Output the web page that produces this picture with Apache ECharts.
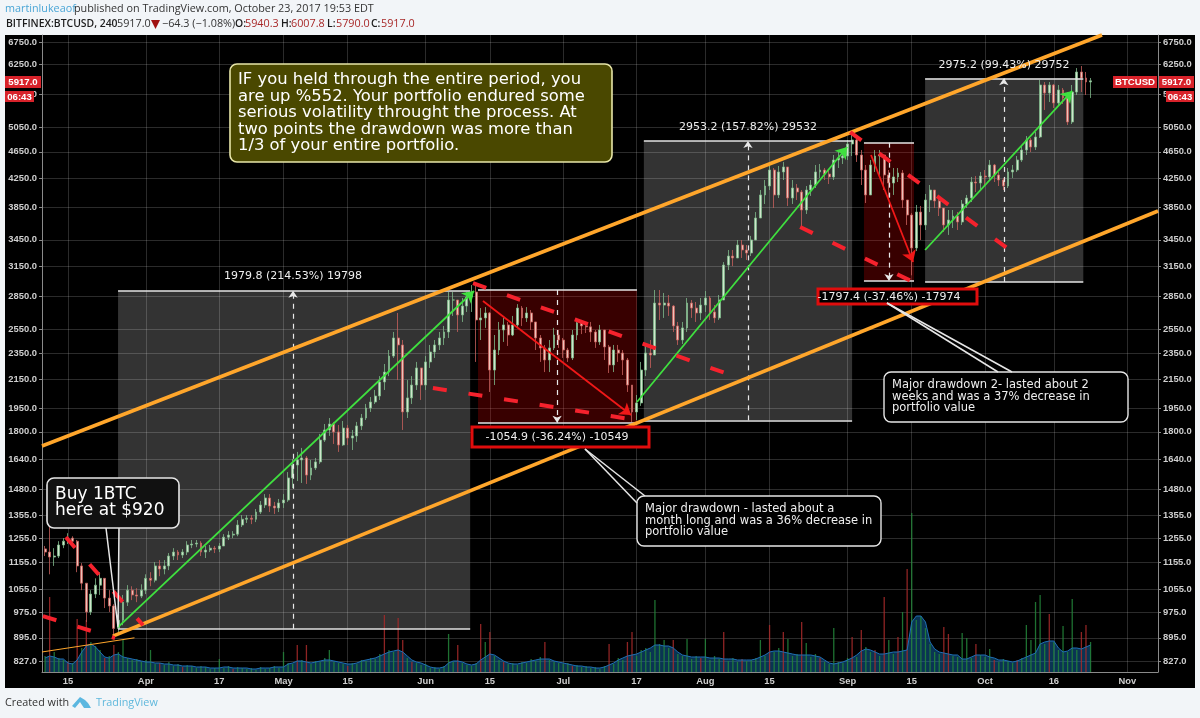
<!DOCTYPE html>
<html>
<head>
<meta charset="utf-8">
<title>BTCUSD</title>
<style>
html, body { margin: 0; padding: 0; background: #f2f5f8; }
#container { width: 1200px; height: 718px; }
</style>
<script src="https://cdn.jsdelivr.net/npm/echarts@6/dist/echarts.min.js"></script>
</head>
<body>
<div id="container"></div>
<script>
/* one row per day, first day is 2017-03-10 */
const firstDay = Date.UTC(2017, 2, 10);
const opens = [1210,1197,1177,1181,1226,1242,1255,1242,1142,1077,977,1038,1070,1095,1024,997,924,950,1010,1052,1035,1031,1052,1095,1088,1142,1130,1142,1181,1197,1185,1197,1226,1230,1234,1197,1205,1213,1209,1222,1259,1268,1272,1312,1338,1343,1338,1371,1404,1438,1399,1390,1414,1428,1539,1608,1636,1647,1554,1592,1625,1750,1811,1848,1799,1721,1823,1762,1775,1836,1886,1951,1991,2032,2131,2204,2327,2474,2416,1925,2019,2109,2235,2109,2281,2359,2416,2474,2525,2814,2814,2675,2757,2843,2891,2630,2648,2693,2219,2375,2542,2586,2499,2586,2738,2648,2693,2612,2474,2392,2296,2392,2499,2457,2375,2312,2499,2604,2577,2569,2525,2441,2542,2400,2258,2375,2351,2296,2109,1925,1985,2219,2351,2335,2785,2766,2785,2757,2577,2457,2560,2785,2738,2693,2766,2833,2702,2648,2814,3168,3266,3245,3391,3334,3300,3449,3716,4018,4142,4373,4018,4344,4418,3977,4114,4059,3818,4086,4156,4344,4373,4314,4271,4524,4555,4586,4776,4841,4601,4373,4018,4448,4586,4601,4300,4184,4271,4329,3950,3754,3357,3792,3629,3950,4086,3937,3844,3629,3691,3741,3666,3897,3977,4198,4184,4285,4271,4448,4300,4227,4142,4344,4373,4524,4680,4841,4727,4891,5834,5678,5834,5489,5736,5583,5146,5697,6097,5974,5894];
const closes = [1197,1177,1181,1226,1242,1255,1242,1142,1077,977,1038,1070,1095,1024,997,924,950,1010,1052,1035,1031,1052,1095,1088,1142,1130,1142,1181,1197,1185,1197,1226,1230,1234,1197,1205,1213,1209,1222,1259,1268,1272,1312,1338,1343,1338,1371,1404,1438,1399,1390,1414,1428,1539,1608,1636,1647,1554,1592,1625,1750,1811,1848,1799,1721,1823,1762,1775,1836,1886,1951,1991,2032,2131,2204,2327,2474,2416,1925,2019,2109,2235,2109,2281,2359,2416,2474,2525,2814,2814,2675,2757,2843,2891,2630,2648,2693,2219,2375,2542,2586,2499,2586,2738,2648,2693,2612,2474,2392,2296,2392,2499,2457,2375,2312,2499,2604,2577,2569,2525,2441,2542,2400,2258,2375,2351,2296,2109,1925,1985,2219,2351,2335,2785,2766,2785,2757,2577,2457,2560,2785,2738,2693,2766,2833,2702,2648,2814,3168,3266,3245,3391,3334,3300,3449,3716,4018,4142,4373,4018,4344,4418,3977,4114,4059,3818,4086,4156,4344,4373,4314,4271,4524,4555,4586,4776,4841,4601,4373,4018,4448,4586,4601,4300,4184,4271,4329,3950,3754,3357,3792,3629,3950,4086,3937,3844,3629,3691,3741,3666,3897,3977,4198,4184,4285,4271,4448,4300,4227,4142,4344,4373,4524,4680,4841,4727,4891,5834,5678,5834,5489,5736,5583,5146,5697,6097,5974,5894,5917];
const highs = [1222,1343,1213,1242,1255,1276,1263,1247,1153,1077,1052,1095,1118,1095,1052,1003,983,1035,1070,1066,1059,1073,1110,1118,1157,1165,1165,1193,1213,1205,1209,1242,1247,1247,1242,1222,1226,1222,1234,1272,1285,1285,1334,1357,1357,1357,1385,1423,1457,1457,1419,1433,1457,1570,1641,1681,1704,1658,1636,1647,1787,1848,1886,1861,1842,1867,1842,1811,1861,1912,1978,2025,2074,2174,2265,2375,2525,2693,2457,2145,2174,2281,2197,2327,2416,2457,2525,2577,2891,2891,2814,2833,2891,2960,2980,2738,2747,2702,2499,2612,2648,2612,2666,2775,2757,2747,2720,2612,2499,2416,2457,2560,2542,2474,2392,2542,2648,2630,2612,2612,2542,2586,2542,2416,2416,2416,2375,2312,2109,2039,2281,2416,2457,2911,2911,2882,2862,2766,2612,2612,2833,2814,2795,2833,2901,2852,2766,2862,3200,3334,3334,3449,3449,3391,3497,3792,4086,4227,4448,4403,4433,4494,4373,4227,4170,4086,4142,4227,4448,4463,4403,4373,4601,4648,4680,4841,4974,4924,4680,4448,4524,4680,4680,4524,4373,4403,4403,4373,3950,3779,3884,3871,4032,4156,4086,3977,3844,3818,3818,3792,3950,4018,4271,4285,4344,4373,4524,4463,4344,4256,4403,4448,4586,4744,4907,4874,4974,5934,5894,5894,5854,5834,5775,5697,5834,6179,6222,6097,5974];
const lows = [1181,1110,1142,1173,1213,1230,1217,1118,1052,944,967,1024,1035,990,977,895,911,934,997,1017,1010,1024,1038,1066,1080,1103,1110,1126,1165,1165,1173,1185,1213,1217,1181,1173,1197,1193,1197,1222,1247,1255,1263,1303,1321,1316,1325,1362,1390,1371,1362,1371,1390,1419,1487,1523,1513,1508,1528,1581,1614,1739,1775,1727,1681,1716,1721,1692,1739,1811,1873,1925,1978,2005,2074,2174,2312,2145,1811,1886,1978,2074,2005,2074,2235,2312,2375,2416,2474,2666,2525,2612,2702,2702,2281,2457,2560,2060,2109,2335,2441,2408,2490,2560,2577,2612,2542,2375,2281,2204,2204,2375,2392,2312,2281,2296,2457,2507,2516,2441,2392,2416,2296,2197,2204,2281,2182,2060,1860,1873,1965,2174,2235,2375,2630,2648,2666,2525,2416,2424,2525,2648,2612,2630,2702,2630,2604,2630,2814,3115,3157,3245,3245,3223,3266,3497,3716,3897,4086,3844,3977,4227,3871,3897,3950,3604,3767,4005,4114,4256,4227,4170,4227,4403,4463,4524,4586,4494,4156,3910,4086,4344,4300,4086,3950,4018,4198,3844,3629,3060,3322,3449,3568,3792,3844,3741,3544,3509,3592,3568,3629,3844,3923,4059,4086,4142,4227,4198,4142,4086,4114,4256,4344,4494,4601,4648,4680,4874,5360,5508,5396,5433,5470,5094,5111,5640,5697,5640,5583];
/* volume, the axis for it is hidden so the unit is only relative */
const volumes = [16,75,20,14,12,10,9,53,24,52,30,26,22,14,16,27,20,32,14,12,13,10,12,22,8,9,7,10,6,8,5,7,6,4,6,5,3,4,13,4,6,3,5,4,3,4,2,5,3,4,6,4,20,9,8,27,12,27,8,11,10,14,22,10,9,8,6,9,8,12,11,14,13,18,57,22,20,54,32,14,10,9,7,8,4,5,3,6,38,10,27,9,7,6,9,48,30,40,16,12,10,8,9,7,10,9,13,11,15,30,12,10,9,8,9,6,7,5,6,4,5,3,6,28,8,14,12,30,40,16,22,24,20,72,28,32,24,32,18,16,33,13,16,14,33,12,16,13,40,11,14,10,13,11,12,14,32,16,47,20,24,40,33,16,18,50,29,15,18,14,10,8,44,10,9,14,35,15,42,25,20,22,16,75,32,18,35,60,103,159,52,56,44,28,20,18,45,38,16,15,39,34,14,28,17,15,23,12,10,13,11,9,12,14,47,32,70,77,28,58,30,22,46,20,73,22,40,47,30];
const redVolumeDays = [1,5,7,9,13,15,25,30,41,55,57,66,74,77,78,80,90,95,97,100,109,115,123,127,128,137,143,148,152,158,161,165,169,176,178,181,183,186,188,196,197,203,207,212,219,226,227];
const volumeAverage = [14,16,15,13,13,9,8,12,20,26,28,25,20,15,14,17,18,15,14,13,12,11,10,10,9,9,8,8,7,7,6,6,6,5,5,5,4,4,4,5,5,4,4,4,4,3,3,4,4,4,5,5,5,8,9,11,11,10,9,10,11,12,12,11,10,9,8,8,9,11,12,13,14,16,18,20,21,22,20,16,12,10,9,7,5,4,4,5,9,11,11,10,8,7,8,12,15,18,17,14,11,9,8,8,9,10,11,12,13,13,13,11,10,9,8,7,6,6,5,5,4,4,5,7,9,12,14,16,17,18,20,22,24,27,27,26,26,24,20,17,16,15,15,15,15,14,14,14,13,13,13,12,12,12,12,13,15,17,20,21,21,20,19,18,17,17,17,17,16,15,12,9,8,9,10,12,14,17,21,23,22,20,18,18,19,20,20,21,22,50,56,56,50,30,23,20,19,18,17,17,13,13,15,17,17,17,15,14,12,12,11,10,11,13,15,17,19,28,30,31,31,24,20,21,24,24,23,25,27];

/* axis ticks */
const priceTicks = [827,895,975,1055,1155,1255,1355,1480,1640,1800,1950,2150,2350,2550,2850,3150,3450,3850,4250,4650,5050,5650,6250,6750];
const dateTicks = ['2017-03-15','2017-04-01','2017-04-17','2017-05-01','2017-05-15','2017-06-01','2017-06-15','2017-07-01','2017-07-17','2017-08-01','2017-08-15','2017-09-01','2017-09-15','2017-10-01','2017-10-16','2017-11-01'];
const dateTickLabels = ['15','Apr','17','May','15','Jun','15','Jul','17','Aug','15','Sep','15','Oct','16','Nov'];

/* drawn tools: [start, end, low, high] */
const gainBoxes = [
    ['2017-03-25T22:00Z', '2017-06-10T17:00Z', 922.8, 2902.6],
    ['2017-07-18T14:00Z', '2017-09-02T00:00Z', 1871, 4824],
    ['2017-09-17T22:00Z', '2017-10-22T10:00Z', 2992, 5967]
];
const lossBoxes = [
    ['2017-06-12T10:00Z', '2017-07-17T02:00Z', 1856, 2911],
    ['2017-09-04T14:00Z', '2017-09-15T12:00Z', 3001, 4798]
];
const gainMiddles = ['2017-05-03T02:00Z', '2017-08-10T07:00Z', '2017-10-05T02:00Z'];
const lossMiddles = ['2017-06-29T16:00Z', '2017-09-10T01:00Z'];
/* lines: [date, price, date, price] */
const channelLines = [
    ['2017-03-09T08:00Z', 1715, '2017-10-26T12:00Z', 6912],
    ['2017-03-24T19:00Z', 900, '2017-11-07T17:00Z', 3805]
];
const thinChannel = ['2017-03-09T08:00Z', 853, '2017-03-29T12:00Z', 895];
const greenArrows = [
    ['2017-03-25T22:00Z', 928, '2017-06-11T13:00Z', 2901],
    ['2017-07-17T02:00Z', 1991, '2017-08-31T22:00Z', 4727],
    ['2017-09-17T22:00Z', 3334, '2017-10-20T00:00Z', 5717]
];
const redArrows = [
    ['2017-06-13T12:00Z', 2805, '2017-07-15T19:00Z', 1905],
    ['2017-09-06T03:00Z', 4601, '2017-09-15T07:00Z', 3201]
];
const redDashes = [
    ['2017-03-14T13:00Z', 1259, '2017-03-31T09:00Z', 934],
    ['2017-03-09T13:00Z', 963, '2017-03-25T06:00Z', 894],
    ['2017-06-11T08:00Z', 2980, '2017-08-05T07:00Z', 2197],
    ['2017-06-02T14:00Z', 2088, '2017-07-15T14:00Z', 1879],
    ['2017-09-01T14:00Z', 4974, '2017-10-05T19:00Z', 3357],
    ['2017-08-21T16:00Z', 3604, '2017-09-15T07:00Z', 2992]
];

const dayTime = i => firstDay + i * 86400000;
const ts = s => Date.parse(s);
const redSet = new Set(redVolumeDays);
const dateTickTimes = dateTicks.map(d => ts(d + 'T00:00Z'));

const candleData = opens.map((o, i) => [
    dayTime(i), o, closes[i],
    Math.min(lows[i], o, closes[i]), Math.max(highs[i], o, closes[i])
]);
const volumeData = volumes.map((v, i) => ({
    value: [dayTime(i), v],
    itemStyle: { color: redSet.has(i) ? '#a82a2a' : '#23853a' }
}));
const averageData = volumeAverage.map((v, i) => [dayTime(i), v]);

function seg(row, style, arrow) {
    return [
        { coord: [ts(row[0]), row[1]], symbol: 'none', lineStyle: style },
        { coord: [ts(row[2]), row[3]], symbol: arrow ? 'arrow' : 'none', symbolSize: arrow || 0 }
    ];
}
function boxArea(box, color) {
    return [
        { coord: [ts(box[0]), box[3]], itemStyle: { color: color } },
        { coord: [ts(box[1]), box[2]] }
    ];
}

const edgeStyle = { color: '#e4e4e4', width: 1.6, type: 'solid' };
const middleStyle = { color: '#e8e8e8', width: 1.2, type: [5, 5] };
const toolLines = [];
gainBoxes.concat(lossBoxes).forEach(b => {
    toolLines.push(seg([b[0], b[2], b[1], b[2]], edgeStyle));
    toolLines.push(seg([b[0], b[3], b[1], b[3]], edgeStyle));
});
gainMiddles.forEach((d, i) => toolLines.push(seg([d, gainBoxes[i][2], d, gainBoxes[i][3]], middleStyle, 7)));
lossMiddles.forEach((d, i) => toolLines.push(seg([d, lossBoxes[i][3], d, lossBoxes[i][2]], middleStyle, 7)));
channelLines.forEach(r => toolLines.push(seg(r, { color: '#ffa62b', width: 3.6, type: 'solid' })));
toolLines.push(seg(thinChannel, { color: '#ffa62b', width: 1, type: 'solid' }));
greenArrows.forEach(r => toolLines.push(seg(r, { color: '#3fe03f', width: 1.8, type: 'solid' }, 11)));
redArrows.forEach(r => toolLines.push(seg(r, { color: '#f01818', width: 1.8, type: 'solid' }, 11)));
redDashes.forEach(r => toolLines.push(seg(r, { color: '#f5222d', width: 4, type: [14, 22] })));

const tickLabelStyle = { color: '#cfcfcf', fontFamily: 'Liberation Sans', fontSize: 9.4, fontWeight: 'bold' };
const gridLine = { show: true, lineStyle: { color: 'rgba(255,255,255,0.17)', width: 1 } };
const priceAxis = (position, extra) => Object.assign({
    type: 'log', position: position, min: 797, max: 6912, logBase: 10,
    axisLine: { show: true, lineStyle: { color: '#8a8a8a', width: 1 } },
    axisTick: { show: true, length: 3, customValues: priceTicks, lineStyle: { color: '#8a8a8a' } },
    axisLabel: Object.assign({ customValues: priceTicks, margin: 5, formatter: v => Number(v).toFixed(1) }, tickLabelStyle),
    minorTick: { show: false }
}, extra);

/* texts and boxes in page positions */
const font = (size, family, weight) => (weight ? weight + ' ' : '') + size + 'px "' + family + '"';
function text(x, y, str, f, fill, align, lh) {
    return { type: 'text', z: 60, silent: true, style: { x: x, y: y, text: str, font: f, fill: fill, align: align || 'left', verticalAlign: 'middle', lineHeight: lh } };
}
function round(x, y, w, h, fill, stroke, lw, r) {
    return { type: 'rect', z: 55, silent: true, shape: { x: x, y: y, width: w, height: h, r: r || 0 }, style: { fill: fill, stroke: stroke, lineWidth: lw || 0 } };
}
function wedge(points) {
    return { type: 'polyline', z: 56, silent: true, shape: { points: points }, style: { fill: 'none', stroke: '#e6e6e6', lineWidth: 1.5 } };
}
function tag(x, y, w, h, str) {
    return [round(x, y, w, h, '#d8222a'), text(x + w / 2, y + h / 2 + 0.5, str, font(9.6, 'Liberation Sans', 'bold'), '#fff', 'center')];
}
const hdr = 'Open Sans';
const graphicItems = [
    { type: 'rect', z: -10, silent: true, shape: { x: 5, y: 35, width: 1190, height: 653 }, style: { fill: '#000' } },
    text(5, 9, 'martinlukeaof', font(10.8, hdr), '#4ba6d6'),
    text(74, 9, 'published on TradingView.com, October 23, 2017 19:53 EDT', font(10.8, hdr), '#333'),
    text(6, 24, 'BITFINEX:BTCUSD, 240', font(10.4, hdr, '600'), '#1c1c1c'),
    text(117, 24, '5917.0', font(10.8, hdr), '#333'),
    { type: 'polygon', z: 60, silent: true, shape: { points: [[151, 20], [160, 20], [155.5, 29]] }, style: { fill: '#a01010' } },
    text(162, 24, '\u221264.3 (\u22121.08%)', font(10.8, hdr), '#333'),
    text(235, 24, 'O:', font(10.4, hdr, '600'), '#1c1c1c'),
    text(245, 24, '5940.3', font(10.8, hdr), '#a82828'),
    text(281, 24, 'H:', font(10.4, hdr, '600'), '#1c1c1c'),
    text(291, 24, '6007.8', font(10.8, hdr), '#a82828'),
    text(327, 24, 'L:', font(10.4, hdr, '600'), '#1c1c1c'),
    text(336, 24, '5790.0', font(10.8, hdr), '#a82828'),
    text(371, 24, 'C:', font(10.4, hdr, '600'), '#1c1c1c'),
    text(381, 24, '5917.0', font(10.8, hdr), '#a82828'),
    /* footer */
    text(5, 703, 'Created with', font(10.8, hdr), '#333'),
    { type: 'polygon', z: 60, silent: true, shape: { points: [[72, 706], [80, 697], [85, 700], [88, 703], [91, 708], [84, 708], [80, 702], [75, 708]] }, style: { fill: '#5bb7e0' } },
    text(96, 703, 'TradingView', font(10.8, hdr), '#5fb8dc'),
    /* summary box */
    round(230, 64, 382, 98, '#4a4800', '#e8e6a8', 1.6, 7),
    text(238, 113, 'IF you held through the entire period, you\nare up %552. Your portfolio endured some\nserious volatility throught the process. At\ntwo points the drawdown was more than\n1/3 of your entire portfolio.', font(16.4, 'DejaVu Sans'), '#fff', 'left', 16.4),
    /* buy note */
    round(47, 478, 132, 50, '#111', '#e6e6e6', 1.6, 7),
    wedge([[106, 528], [118, 627], [119, 528]]),
    text(55, 503, 'Buy 1BTC\nhere at $920', font(17, 'DejaVu Sans'), '#fff', 'left', 16),
    /* measure labels */
    text(293, 276, '1979.8 (214.53%) 19798', font(11, 'DejaVu Sans'), '#eee', 'center'),
    text(748, 127, '2953.2 (157.82%) 29532', font(11, 'DejaVu Sans'), '#eee', 'center'),
    text(1004, 65, '2975.2 (99.43%) 29752', font(11, 'DejaVu Sans'), '#eee', 'center'),
    round(472, 427, 177, 20, '#000', '#e00d0d', 3),
    text(557, 437, '-1054.9 (-36.24%) -10549', font(11, 'DejaVu Sans'), '#eee', 'center'),
    round(818, 289, 159, 15, '#000', '#e00d0d', 3),
    text(889, 297, '-1797.4 (-37.46%) -17974', font(11, 'DejaVu Sans'), '#eee', 'center'),
    /* drawdown notes */
    wedge([[585, 449], [637, 503]]),
    wedge([[585, 449], [645, 496]]),
    round(637, 496, 244, 50, '#000', '#e6e6e6', 1.4, 7),
    text(645, 521, 'Major drawdown - lasted about a\nmonth long and was a 36% decrease in\nportfolio value', font(11.5, 'DejaVu Sans'), '#eee', 'left', 11.5),
    wedge([[887, 303], [998, 372]]),
    wedge([[887, 303], [1012, 372]]),
    round(884, 372, 244, 50, '#000', '#e6e6e6', 1.4, 7),
    text(892, 397, 'Major drawdown 2- lasted about 2\nweeks and was a 37% decrease in\nportfolio value', font(11.5, 'DejaVu Sans'), '#eee', 'left', 11.5)
].concat(
    tag(5, 76, 36, 12, '5917.0'), tag(5, 91, 29, 11, '06:43'),
    tag(1113, 76, 44, 12, 'BTCUSD'), tag(1159, 76, 35, 12, '5917.0'), tag(1166, 91, 28, 11, '06:43')
);

const option = {
    animation: false,
    backgroundColor: 'transparent',
    grid: { left: 42, right: 42, top: 35, bottom: 46, containLabel: false },
    xAxis: {
        /* dates as plain timestamps, the time axis does not take custom ticks */
        type: 'value', min: ts('2017-03-09T08:00Z'), max: ts('2017-11-07T17:00Z'),
        axisLine: { show: true, onZero: false, lineStyle: { color: '#8a8a8a' } },
        axisTick: { show: false, customValues: dateTickTimes },
        axisLabel: Object.assign({
            customValues: dateTickTimes, margin: 5,
            formatter: v => dateTickLabels[dateTickTimes.indexOf(+v)]
        }, tickLabelStyle),
        splitLine: gridLine
    },
    yAxis: [
        priceAxis('left', { splitLine: gridLine }),
        priceAxis('right', { splitLine: { show: false } }),
        { type: 'value', min: 0, max: 637, show: false, splitLine: { show: false } }
    ],
    series: [
        {
            name: 'boxes', type: 'line', data: [], z: 1, silent: true,
            markArea: {
                silent: true,
                data: gainBoxes.map(b => boxArea(b, 'rgba(255,255,255,0.2)')).concat(lossBoxes.map(b => boxArea(b, 'rgba(255,0,0,0.22)')))
            }
        },
        {
            name: 'volume', type: 'bar', yAxisIndex: 2, data: volumeData, barWidth: 1.3, z: 2, silent: true,
            itemStyle: { opacity: 0.85 }
        },
        {
            name: 'volume average', type: 'line', yAxisIndex: 2, data: averageData, z: 2, silent: true,
            symbol: 'none', lineStyle: { color: '#1f6fb4', width: 1 },
            areaStyle: { color: 'rgba(24,120,190,0.62)' }
        },
        {
            name: 'BTCUSD', type: 'candlestick', data: candleData, z: 3, silent: true, barWidth: 2.4,
            itemStyle: { color: '#cfe6cc', color0: '#ecc4ba', borderColor: '#7fb98a', borderColor0: '#c65f5c', borderWidth: 0.8 }
        },
        {
            name: 'tools', type: 'line', data: [], z: 4, silent: true,
            markLine: { silent: true, animation: false, label: { show: false }, emphasis: { disabled: true }, data: toolLines }
        }
    ],
    graphic: { elements: graphicItems }
};

const myChart = echarts.init(document.getElementById('container'), null, { renderer: 'canvas' });
myChart.setOption(option);
</script>
</body>
</html>
